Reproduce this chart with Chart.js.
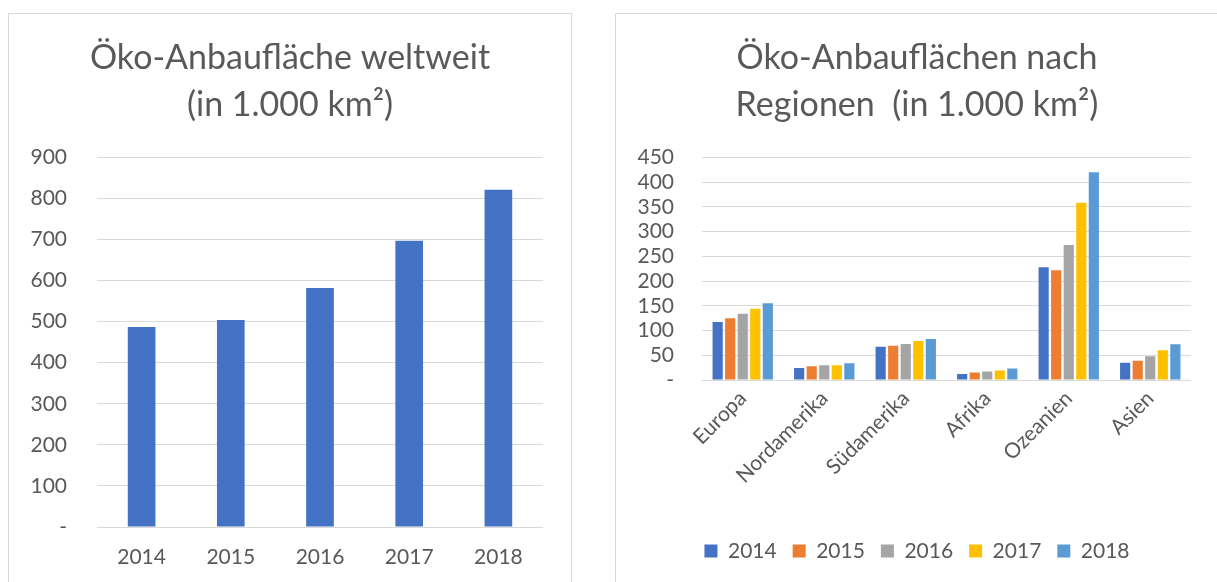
<!DOCTYPE html>
<html>
<head>
<meta charset="utf-8">
<script src="https://cdn.jsdelivr.net/npm/chart.js@4.4.1/dist/chart.umd.min.js"></script>
<style>
  body { margin: 0; background: #fff; overflow: hidden; }
  .box { position: absolute; border: 1px solid #d9d9d9; background: #fff; overflow: hidden; }
  .box canvas { display: block; }
  #box1 { left: 8px; top: 13px; width: 562px; height: 570px; }
  #box2 { left: 615px; top: 13px; width: 602px; height: 570px; }
</style>
</head>
<body>
<div class="box" id="box1"><canvas id="chart1" width="562" height="568"></canvas></div>
<div class="box" id="box2"><canvas id="chart2" width="602" height="568"></canvas></div>
<script>
const years = ["2014", "2015", "2016", "2017", "2018"];
const worldArea = [487, 504, 582, 697, 821];

const regions = ["Europa", "Nordamerika", "Südamerika", "Afrika", "Ozeanien", "Asien"];
const area2014 = [117, 24, 67, 12, 228, 35];
const area2015 = [125, 28, 69, 15, 222, 39];
const area2016 = [134, 30, 73, 17, 273, 48];
const area2017 = [144, 30, 79, 19, 358, 60];
const area2018 = [155, 34, 83, 23, 420, 72];
const yearColors = ["#4472c4", "#ed7d31", "#a5a5a5", "#ffc000", "#5b9bd5"];

Chart.defaults.font.family = "Lato";
Chart.defaults.color = "#595959";
Chart.defaults.animation = false;

const tickLabel = v => v === 0 ? "-" : v;

// empty right-hand axis, so the title stays centred over the box
const spacer = w => ({
    position: "right",
    afterFit: s => { s.width = w; },
    grid: { display: false },
    border: { display: false },
    ticks: { display: false }
});

const titleOpts = text => ({
    display: true,
    text: text,
    font: { size: 34, weight: "normal", lineHeight: 1.38 },
    color: "#595959",
    padding: { top: 21, bottom: 28.5 }
});

new Chart(document.getElementById("chart1"), {
    type: "bar",
    data: {
        labels: years,
        datasets: [{ data: worldArea, backgroundColor: "#4472c4", categoryPercentage: 1, barPercentage: 0.31 }]
    },
    options: {
        responsive: false,
        layout: { padding: 0 },
        plugins: {
            legend: { display: false },
            tooltip: { enabled: false },
            title: titleOpts(["Öko-Anbaufläche weltweit", "(in 1.000 km²)"])
        },
        scales: {
            x: {
                afterFit: s => { s.height = 55; },
                grid: { display: false, drawTicks: false },
                border: { display: false },
                ticks: { font: { size: 21 }, padding: 18 }
            },
            y: {
                min: 0,
                max: 900,
                afterFit: s => { s.width = 88; },
                grid: { color: "#d9d9d9", drawTicks: false },
                border: { display: false },
                ticks: { stepSize: 100, autoSkip: false, font: { size: 21 }, padding: 30, callback: tickLabel }
            },
            y2: spacer(28)
        }
    }
});

const regionSets = [area2014, area2015, area2016, area2017, area2018].map((vals, i) => ({
    label: years[i],
    data: vals,
    backgroundColor: yearColors[i],
    categoryPercentage: 0.77,
    barPercentage: 0.81
}));

new Chart(document.getElementById("chart2"), {
    type: "bar",
    data: { labels: regions, datasets: regionSets },
    options: {
        responsive: false,
        layout: { padding: { bottom: 10.5 } },
        plugins: {
            tooltip: { enabled: false },
            title: titleOpts(["Öko-Anbauflächen nach", "Regionen  (in 1.000 km²)"]),
            legend: {
                position: "bottom",
                labels: { boxWidth: 13, boxHeight: 13, padding: 16, font: { size: 21 } }
            }
        },
        scales: {
            x: {
                afterFit: s => { s.height = 144.5; },
                grid: { display: false, drawTicks: false },
                border: { display: false },
                ticks: { font: { size: 21 }, minRotation: 45, maxRotation: 45, padding: 6 }
            },
            y: {
                min: 0,
                max: 450,
                afterFit: s => { s.width = 86; },
                grid: { color: "#d9d9d9", drawTicks: false },
                border: { display: false },
                ticks: { stepSize: 50, autoSkip: false, font: { size: 21 }, padding: 28, callback: tickLabel }
            },
            y2: spacer(27)
        }
    }
});
</script>
</body>
</html>
